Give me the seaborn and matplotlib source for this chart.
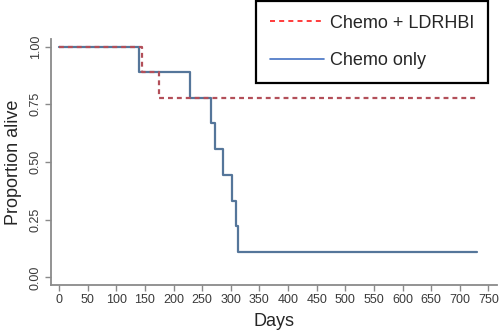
import matplotlib
matplotlib.use("Agg")
import matplotlib.pyplot as plt
import seaborn as sns
import pandas as pd
from matplotlib.lines import Line2D

# Kaplan-Meier step data
days_ldrhbi = [0, 145, 174, 730]
surv_ldrhbi = [1.0, 0.889, 0.778, 0.778]
days_chemo = [0, 140, 228, 266, 273, 286, 303, 309, 312, 730]
surv_chemo = [1.0, 0.889, 0.778, 0.667, 0.556, 0.444, 0.333, 0.222, 0.111, 0.111]
x_ticks = list(range(0, 751, 50))
y_ticks = [0.0, 0.25, 0.5, 0.75, 1.0]
y_tick_labels = ["0.00", "0.25", "0.50", "0.75", "1.00"]
legend_labels = ["Chemo + LDRHBI", "Chemo only"]

sns.set_style("white")
plt.rcParams['font.family'] = ['Liberation Sans', 'DejaVu Sans']

fig = plt.figure(figsize=(5, 3.32), dpi=100)
ax = fig.add_axes([51/500, 1-285/332, (497-51)/500, (285-39)/332])

df_c = pd.DataFrame({"Days": days_chemo, "surv": surv_chemo})
df_l = pd.DataFrame({"Days": days_ldrhbi, "surv": surv_ldrhbi})

sns.lineplot(data=df_c, x="Days", y="surv", ax=ax, drawstyle="steps-post",
             color="#55769a", linewidth=1.6, estimator=None)
sns.lineplot(data=df_l, x="Days", y="surv", ax=ax, drawstyle="steps-post",
             color="#b34f59", linewidth=1.6, linestyle=(0, (2.2, 1.8)), estimator=None)

ax.set_xlim(-14, 765)
ax.set_ylim(-0.033, 1.033)
ax.set_xticks(x_ticks)
ax.set_yticks(y_ticks)
ax.set_yticklabels(y_tick_labels, rotation=90, va="center")
for s in ["top", "right"]:
    ax.spines[s].set_visible(False)
for s in ["left", "bottom"]:
    ax.spines[s].set_color("#8a8a8a")
    ax.spines[s].set_linewidth(1.3)
ax.tick_params(axis="both", which="both", direction="out", length=4, width=1,
               color="#8a8a8a", labelsize=9, labelcolor="#3a3a3a", pad=2.5,
               bottom=True, left=True)
ax.set_xlabel("Days", fontsize=13, labelpad=5)
ax.set_ylabel("Proportion alive", fontsize=13, labelpad=6)

handles = [Line2D([], [], color="#ff1a1a", linestyle=(0, (3, 2.5)), linewidth=1.2),
           Line2D([], [], color="#4472c4", linestyle="-", linewidth=1.2)]
leg = fig.legend(handles, legend_labels, loc="upper right",
                 bbox_to_anchor=(488/500, 1-1/332), fontsize=13, frameon=True,
                 fancybox=False, edgecolor="black", handlelength=3.0,
                 handletextpad=0.35, borderpad=0.75, labelspacing=1.15,
                 borderaxespad=0)
leg.get_frame().set_linewidth(1.6)
leg.get_frame().set_alpha(1)

fig.savefig("out.png", dpi=100)
